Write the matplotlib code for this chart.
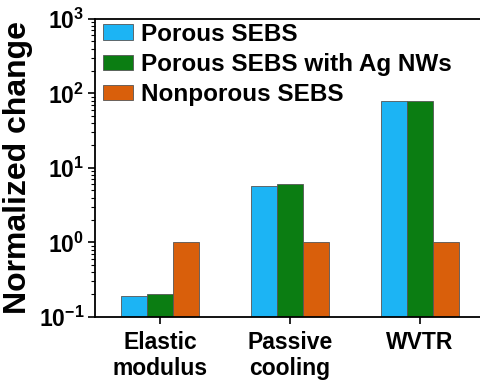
import numpy as np
import matplotlib
matplotlib.use("Agg")
import matplotlib.pyplot as plt
import matplotlib.ticker as mticker

plt.rcParams.update({
    "font.family": ["Liberation Sans", "DejaVu Sans"],
    "font.weight": "bold",
    "mathtext.fontset": "custom",
    "mathtext.rm": "Liberation Sans:bold",
    "mathtext.bf": "Liberation Sans:bold",
    "mathtext.it": "Liberation Sans:bold",
})

# ---- Data ----
categories = ["Elastic\nmodulus", "Passive\ncooling", "WVTR"]
series_names = ["Porous SEBS", "Porous SEBS with Ag NWs", "Nonporous SEBS"]
porous = [0.19, 5.7, 80]
porous_ag = [0.20, 6.1, 80]
nonporous = [1.0, 1.0, 1.0]

COLORS = ["#1cb4f4", "#0b7d12", "#d95f0b"]

fig = plt.figure(figsize=(4.81, 3.85), dpi=100)
ax = fig.add_axes([0.198, 0.177, 0.81, 0.774])

x = np.arange(len(categories))
width = 0.2
for i, (vals, name, col) in enumerate(zip([porous, porous_ag, nonporous], series_names, COLORS)):
    ax.bar(x + (i - 1) * width, vals, width, color=col,
           edgecolor="#555555", linewidth=0.6, label=name)

ax.set_yscale("log")
ax.set_ylim(0.1, 1000)
ax.set_xlim(-0.5, 2.5)
ax.yaxis.set_major_formatter(mticker.FuncFormatter(
    lambda v, p: r"$\mathbf{10^{%d}}$" % int(round(np.log10(v)))))
ax.set_xticks(x)
ax.set_xticklabels(categories, fontsize=16.5, fontweight="bold")
ax.tick_params(axis="y", labelsize=16.5, width=1.2, length=5, direction="out", pad=3)
ax.tick_params(axis="y", which="minor", width=0.8, length=3)
ax.tick_params(axis="x", width=1.2, length=5, direction="out", pad=5)
ax.set_ylabel("Normalized change", fontsize=23, fontweight="bold", labelpad=4)

for s in ["left", "bottom", "top"]:
    ax.spines[s].set_linewidth(1.3)
ax.spines["right"].set_visible(False)

ax.legend(loc="upper left", bbox_to_anchor=(-0.005, 1.02), frameon=False,
          prop={"size": 17.5, "weight": "bold"}, handlelength=1.25, handleheight=0.6,
          handletextpad=0.33, labelspacing=0.3, borderaxespad=0.2, borderpad=0.2)

fig.savefig("out.png", dpi=100)
